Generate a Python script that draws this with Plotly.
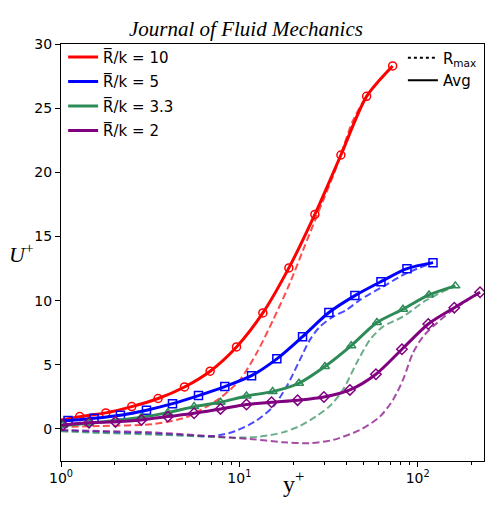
import plotly.graph_objects as go

# ---------------- data ----------------
series_names = ["R\u0305/k = 10", "R\u0305/k = 5", "R\u0305/k = 3.3", "R\u0305/k = 2"]
series_colors = ["#ff0000", "#0000ff", "#2e8b57", "#800080"]
series_faded = ["rgba(255,0,0,0.7)", "rgba(0,0,255,0.7)", "rgba(46,139,87,0.7)", "rgba(128,0,128,0.7)"]
series_symbols = ["circle-open", "square-open", "triangle-up-open", "diamond-open"]

# Average profiles (solid lines with markers)
red_x = [1.273, 1.782, 2.493, 3.502, 4.926, 6.859, 9.645, 13.55, 18.96, 26.52, 37.12, 51.73, 72.41]
red_u = [0.96, 1.25, 1.74, 2.37, 3.27, 4.50, 6.39, 9.04, 12.55, 16.72, 21.35, 25.92, 28.29]
red_u_wall = 0.70

blue_x = [1.095, 1.532, 2.154, 3.015, 4.219, 5.902, 8.290, 11.71, 16.23, 22.62, 31.78, 44.47, 62.25, 87.10, 121.9]
blue_u = [0.65, 0.83, 1.07, 1.46, 1.97, 2.60, 3.30, 4.15, 5.46, 7.19, 9.07, 10.39, 11.48, 12.49, 12.96]
blue_u_wall = 0.60

green_x = [1.022, 1.436, 2.020, 2.826, 3.970, 5.577, 7.844, 10.97, 15.36, 21.58, 30.18, 42.41, 59.10, 82.70, 115.7, 162.6]
green_u = [0.26, 0.44, 0.65, 0.91, 1.27, 1.74, 2.08, 2.57, 2.91, 3.56, 4.86, 6.49, 8.29, 9.33, 10.44, 11.15]
green_u_wall = 0.22

purple_x = [1.026, 1.436, 2.020, 2.826, 3.970, 5.577, 7.844, 10.97, 15.16, 21.21, 29.80, 41.70, 58.34, 81.65, 114.7, 160.5, 223.7]
purple_u = [0.31, 0.49, 0.55, 0.70, 0.96, 1.22, 1.56, 1.90, 2.08, 2.24, 2.49, 3.04, 4.26, 6.21, 8.18, 9.45, 10.65]
purple_u_wall = 0.28

# R_max profiles (dashed lines)
red_rmax_x = [1.0, 1.649, 3.355, 5.140, 6.002, 7.774, 10.07, 12.49, 15.48, 19.20, 22.80, 27.12, 35.13, 43.52, 51.73, 72.41]
red_rmax_u = [0.16, 0.23, 0.39, 0.95, 1.45, 2.39, 3.82, 5.90, 8.50, 11.36, 13.95, 16.55, 20.44, 24.08, 25.90, 28.29]

blue_rmax_x = [1.0, 1.649, 3.147, 4.818, 6.832, 8.2, 9.43, 12.22, 15.48, 18.40, 21.85, 24.86, 28.30, 33.60, 39.96, 47.46, 63.88, 86.76, 121.9]
blue_rmax_u = [-0.12, -0.23, -0.35, -0.47, -0.58, -0.42, -0.18, 0.57, 1.74, 3.30, 5.38, 6.94, 7.97, 8.75, 9.28, 10.05, 11.09, 12.14, 12.96]

green_rmax_x = [1.0, 1.649, 3.147, 6.002, 9.195, 13.03, 17.54, 21.85, 27.12, 32.20, 38.08, 45.48, 53.98, 63.88, 82.70, 112.3, 162.6]
green_rmax_u = [-0.19, -0.31, -0.43, -0.58, -0.68, -0.60, -0.27, 0.23, 1.01, 1.79, 3.04, 5.14, 6.94, 7.97, 8.75, 10.05, 11.15]

purple_rmax_x = [1.0, 1.649, 3.147, 7.448, 11.45, 17.61, 24.86, 33.47, 47.46, 61.43, 72.67, 82.70, 94.1, 107.1, 127.9, 157.8, 223.7]
purple_rmax_u = [-0.08, -0.16, -0.26, -0.60, -0.78, -1.04, -1.11, -0.86, -0.08, 0.96, 2.26, 3.82, 5.92, 7.19, 8.24, 9.28, 10.65]

avg_x = [red_x, blue_x, green_x, purple_x]
avg_u = [red_u, blue_u, green_u, purple_u]
avg_wall = [red_u_wall, blue_u_wall, green_u_wall, purple_u_wall]
rmax_x = [red_rmax_x, blue_rmax_x, green_rmax_x, purple_rmax_x]
rmax_u = [red_rmax_u, blue_rmax_u, green_rmax_u, purple_rmax_u]

x_tick_vals = [1, 10, 100]
x_tick_text = ["10<sup>0</sup>", "10<sup>1</sup>", "10<sup>2</sup>"]
x_minor_vals = [2, 3, 4, 5, 6, 7, 8, 9, 20, 30, 40, 50, 60, 70, 80, 90, 200]
y_tick_vals = [0, 5, 10, 15, 20, 25, 30]

# ---------------- figure ----------------
fig = go.Figure()

for i in range(4):
    c = series_colors[i]
    # solid average line
    fig.add_trace(go.Scatter(
        x=[1.0] + avg_x[i], y=[avg_wall[i]] + avg_u[i], mode="lines",
        line=dict(color=c, width=3, shape="spline", smoothing=0.8),
        name=series_names[i], legend="legend", legendgroup="g%d" % i,
        showlegend=True, hoverinfo="skip"))
    # markers
    fig.add_trace(go.Scatter(
        x=avg_x[i], y=avg_u[i], mode="markers",
        marker=dict(symbol=series_symbols[i], size=8, color=c, line=dict(color=c, width=1.5)),
        showlegend=False, hoverinfo="skip"))
    # dashed Rmax line
    fig.add_trace(go.Scatter(
        x=rmax_x[i], y=rmax_u[i], mode="lines",
        line=dict(color=series_faded[i], width=2, dash="7px,3.5px", shape="spline", smoothing=0.8),
        showlegend=False, hoverinfo="skip"))

# second legend (line styles)
fig.add_trace(go.Scatter(x=[None], y=[None], mode="lines",
                         line=dict(color="black", width=2, dash="dot"),
                         name="R<sub>max</sub>", legend="legend2", legendgroup="s1"))
fig.add_trace(go.Scatter(x=[None], y=[None], mode="lines",
                         line=dict(color="black", width=2),
                         name="Avg", legend="legend2", legendgroup="s2"))

fig.update_layout(
    width=491, height=511,
    margin=dict(l=61, r=7, t=44, b=50),
    plot_bgcolor="white", paper_bgcolor="white",
    font=dict(family="DejaVu Sans", size=14, color="black"),
    legend=dict(x=0.005, y=1.008, xanchor="left", yanchor="top",
                bgcolor="rgba(255,255,255,0)", borderwidth=0,
                font=dict(family="DejaVu Sans", size=15),
                tracegroupgap=2),
    legend2=dict(x=0.995, y=1.006, xanchor="right", yanchor="top",
                 bgcolor="rgba(255,255,255,0)", borderwidth=0,
                 font=dict(family="DejaVu Sans", size=15),
                 tracegroupgap=0),
    xaxis=dict(type="log", range=[0, 2.372], tickvals=x_tick_vals, ticktext=x_tick_text,
               ticks="outside", ticklen=4.5, tickwidth=1, tickcolor="black",
               showline=True, linecolor="black", linewidth=1, mirror=True,
               showgrid=False, zeroline=False,
               tickfont=dict(family="DejaVu Sans", size=14),
               minor=dict(tickvals=x_minor_vals, ticks="outside", ticklen=2.5,
                          tickwidth=0.8, tickcolor="black", showgrid=False)),
    yaxis=dict(range=[-2.5, 30], tickvals=y_tick_vals,
               ticks="outside", ticklen=5, tickwidth=1, tickcolor="black",
               showline=True, linecolor="black", linewidth=1, mirror=True,
               showgrid=False, zeroline=False,
               tickfont=dict(family="DejaVu Sans", size=14)),
    annotations=[
        dict(text="<i>Journal of Fluid Mechanics</i>", xref="paper", yref="paper",
             x=0.437, y=1.0, yshift=29, showarrow=False,
             font=dict(family="Liberation Serif", size=21, color="black")),
        dict(text="<i>U</i><sup>+</sup>", xref="paper", yref="paper",
             x=0, y=0.5, xshift=-53, yshift=0, showarrow=False, borderpad=0,
             font=dict(family="Liberation Serif", size=22, color="black")),
        dict(text="y<sup>+</sup>", xref="paper", yref="paper",
             x=0.55, y=0, yshift=-38, showarrow=False,
             font=dict(family="Liberation Serif", size=24, color="black")),
    ],
)

fig.write_html("out.html")
